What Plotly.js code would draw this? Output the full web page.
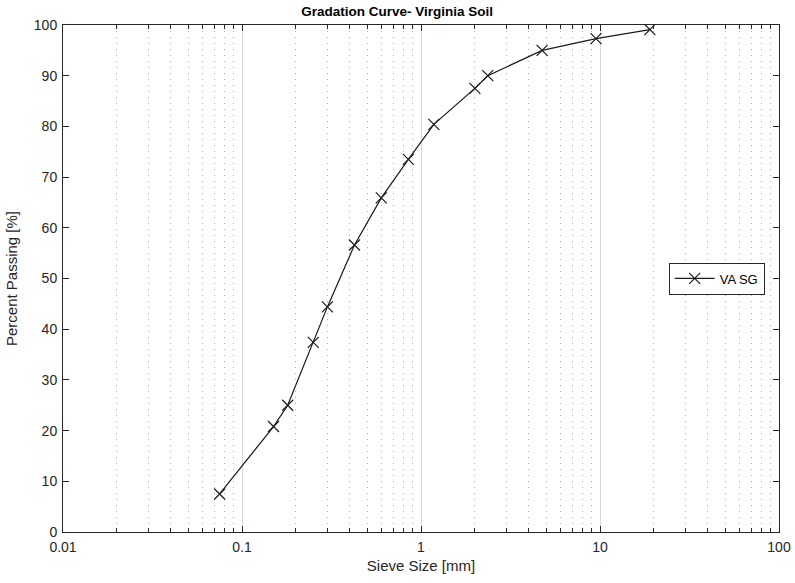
<!DOCTYPE html>
<html>
<head>
<meta charset="utf-8">
<script src="https://cdn.plot.ly/plotly-3.0.1.min.js"></script>
<style>html,body{margin:0;padding:0;background:#fff;}#chart{width:795px;height:583px;}</style>
</head>
<body>
<div id="chart"></div>
<script>
const sieveSize = [0.075, 0.15, 0.18, 0.25, 0.3, 0.425, 0.6, 0.85, 1.18, 2.0, 2.36, 4.75, 9.5, 19.0];
const percentPassing = [7.5, 20.8, 25.0, 37.4, 44.4, 56.6, 65.9, 73.5, 80.4, 87.5, 90.0, 95.0, 97.3, 99.1];
const seriesName = 'VA SG';
const xTickVals = [0.01, 0.1, 1, 10, 100];
const xTickText = ['0.01', '0.1', '1', '10', '100'];
const yTickVals = [0, 10, 20, 30, 40, 50, 60, 70, 80, 90, 100];

// minor log ticks (2..9 in each decade) - axis styling
const minorVals = [];
[0.01, 0.1, 1, 10].forEach(d => { for (let k = 2; k <= 9; k++) minorVals.push(+(d * k).toPrecision(3)); });

const font = 'Liberation Sans, Arial, Helvetica, sans-serif';
const trace = {
  x: sieveSize, y: percentPassing, name: seriesName,
  type: 'scatter', mode: 'lines+markers',
  line: {color: '#1a1a1a', width: 1.2},
  marker: {symbol: 'x-thin-open', size: 11, color: '#1a1a1a', line: {width: 1.2, color: '#1a1a1a'}}
};
// invisible helper trace to carry the minor-tick axis
const tickHelper = {
  x: sieveSize, y: percentPassing, xaxis: 'x2', yaxis: 'y',
  type: 'scatter', mode: 'none', showlegend: false, hoverinfo: 'skip'
};
const layout = {
  width: 795, height: 583,
  margin: {l: 63, r: 16, t: 25, b: 51},
  paper_bgcolor: '#fff', plot_bgcolor: '#fff',
  font: {family: font, size: 13, color: '#262626'},
  title: {text: '<b>Gradation Curve- Virginia Soil</b>', x: 0.4995, xref: 'container', y: 0.981, yanchor: 'middle', font: {family: font, size: 13.5, color: '#000'}},
  xaxis: {
    type: 'log', range: [-2, 2],
    tickvals: xTickVals, ticktext: xTickText,
    ticks: 'inside', ticklen: 6, tickcolor: '#262626', tickwidth: 1,
    showline: true, linecolor: '#262626', linewidth: 1, mirror: 'ticks',
    showgrid: true, gridcolor: '#d9d9d9', gridwidth: 1,
    zeroline: false,
    tickfont: {size: 14, color: '#262626'},
    ticklabelstandoff: 2,
    minor: {tickmode: 'array', tickvals: minorVals, showgrid: true, gridcolor: '#b0b0b0', griddash: '1px,5px', gridwidth: 1},
    title: {text: 'Sieve Size [mm]', font: {size: 15, color: '#262626'}, standoff: 6}
  },
  xaxis2: {
    type: 'log', range: [-2, 2], overlaying: 'x', side: 'bottom',
    tickmode: 'array', tickvals: minorVals, showticklabels: false,
    ticks: 'inside', ticklen: 4, tickcolor: '#262626', tickwidth: 1,
    showline: false, mirror: 'ticks', showgrid: false, zeroline: false
  },
  yaxis: {
    range: [0, 100],
    tickvals: yTickVals,
    ticks: 'inside', ticklen: 6, tickcolor: '#262626', tickwidth: 1,
    showline: true, linecolor: '#262626', linewidth: 1, mirror: 'ticks',
    showgrid: false, zeroline: false,
    tickfont: {size: 14, color: '#262626'},
    ticklabelstandoff: 2,
    title: {text: 'Percent Passing [%]', font: {size: 15, color: '#262626'}, standoff: 12}
  },
  showlegend: true,
  legend: {
    x: 0.98, y: 0.5, xanchor: 'right', yanchor: 'middle',
    bgcolor: '#fff', bordercolor: '#262626', borderwidth: 1,
    font: {size: 13, color: '#000'}, itemwidth: 40, tracegroupgap: 0
  }
};
Plotly.newPlot('chart', [tickHelper, trace], layout, {displayModeBar: false, staticPlot: true});
</script>
</body>
</html>
